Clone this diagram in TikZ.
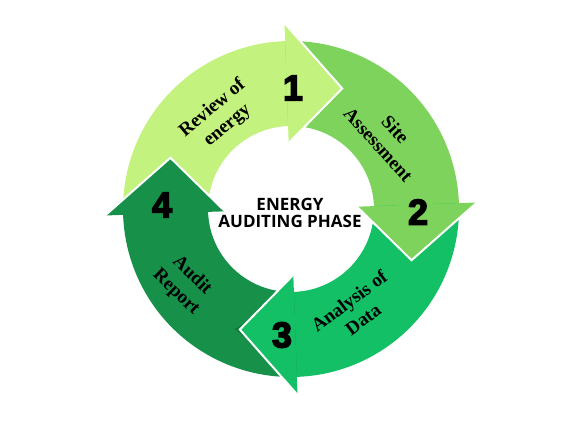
\documentclass[tikz,border=0pt]{standalone}
\usepackage{fontspec}
\setmainfont{Liberation Serif}
\setsansfont{Open Sans}
\newfontfamily\numfont{Liberation Sans}[BoldFeatures={FakeBold=4}]
\usetikzlibrary{calc}
\definecolor{cA}{HTML}{C3F27E}
\definecolor{cB}{HTML}{7DD35C}
\definecolor{cC}{HTML}{14C065}
\definecolor{cD}{HTML}{17914A}
\newcommand\ringbody[3]{%
  \fill[#3] (#1:168) arc[start angle=#1, end angle=#2, radius=168]
    -- (#2:83) arc[start angle=#2, end angle=#1, radius=83] -- cycle;}
\newcommand\ringhead[2]{%
  \fill[#2] (#1:186) -- (#1-25:131) -- (#1:66) -- cycle;
  \draw[headedge] (#1:186) -- (#1-25:131) -- (#1:66);}
\begin{document}
\begin{tikzpicture}[x=1pt,y=1pt,
  headedge/.style={draw=white, line width=2pt, line join=miter},
  headshadow/.style={draw=black, line width=3pt, opacity=0.18},
  lab/.style={font=\fontsize{19}{23}\selectfont\bfseries, align=center, text=black},
  num/.style={font=\numfont\fontsize{36}{36}\selectfont\bfseries, text=black},
  centertext/.style={font=\sffamily\bfseries\fontsize{17}{16.5}\selectfont, align=center, text=black}]
\useasboundingbox (-291,-224) rectangle (286,209);
% bodies
\ringbody{182}{91}{cA}
\ringbody{92}{1}{cB}
\ringbody{2}{-89}{cC}
\ringbody{-88}{-179}{cD}
% soft shadow of head 3 on body 4
\begin{scope}[shift={(-2.5,0.5)}]
\draw[headshadow] (-88:170) -- (-113:131) -- (-88:90);
\end{scope}
% heads
\ringhead{92}{cA}
\ringhead{2}{cB}
\ringhead{-88}{cC}
\ringhead{182}{cD}
% labels
\node[lab, rotate=40] (t1) at (-71,92) {Review of\\energy};
\node[lab, rotate=-48] (t2) at (96,72) {Site\\Assessment};
\node[lab, rotate=37] (t3) at (65,-101) {Analysis of\\Data};
\node[lab, rotate=-44] (t4) at (-107,-75) {Audit\\Report};
\node[num] (n1) at (2,121) {1};
\node[num] (n2) at (127,-3) {2};
\node[num] (n3) at (-9,-126) {3};
\node[num] (n4) at (-129,4) {4};
\node[centertext] (c) at (-1,-4) {ENERGY\\AUDITING PHASE};
\end{tikzpicture}
\end{document}
